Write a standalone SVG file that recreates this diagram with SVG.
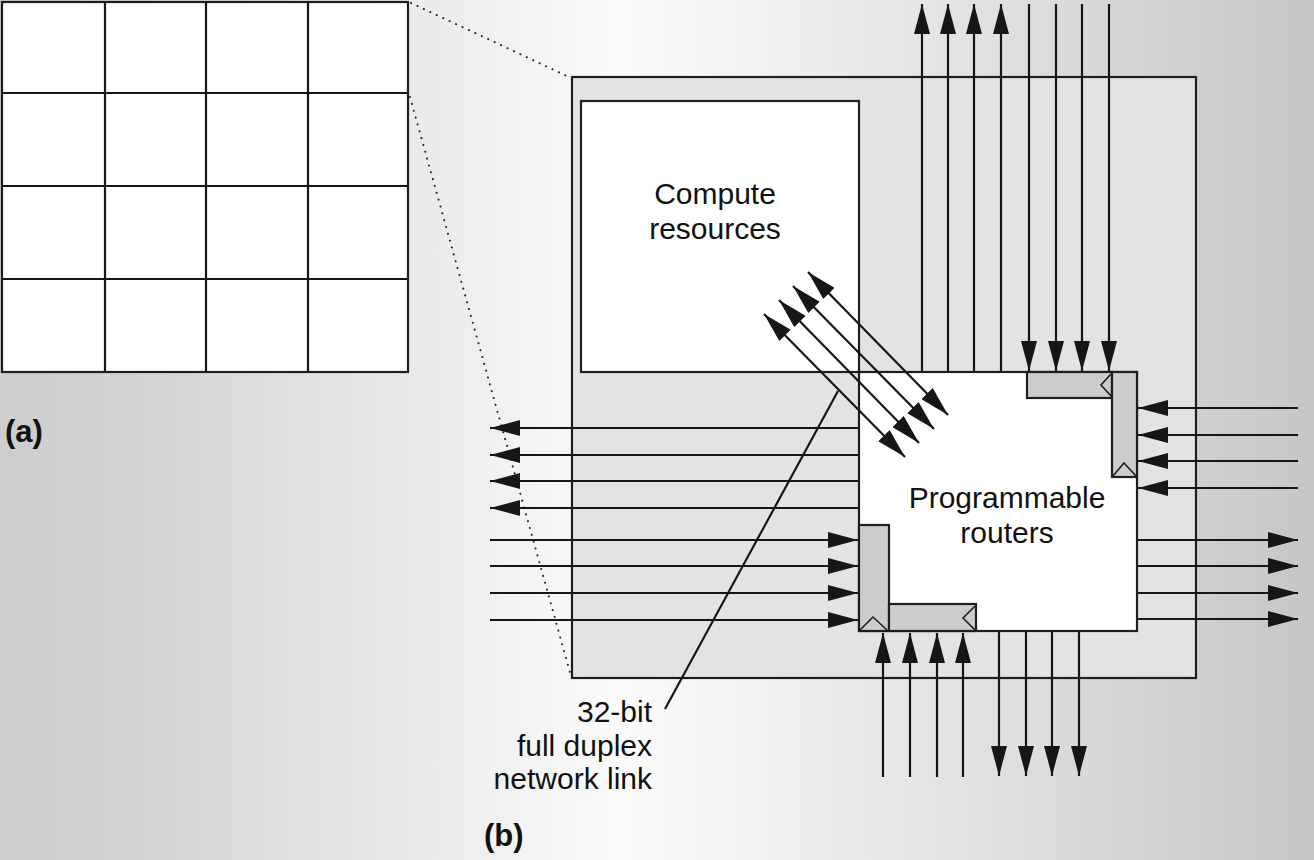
<svg xmlns="http://www.w3.org/2000/svg" width="1314" height="860" viewBox="0 0 1314 860">
  <defs>
    <linearGradient id="bg" x1="0" y1="0" x2="1314" y2="0" gradientUnits="userSpaceOnUse">
      <stop offset="0" stop-color="#cdcdcd"/>
      <stop offset="0.1" stop-color="#d3d3d3"/>
      <stop offset="0.38" stop-color="#f1f1f1"/>
      <stop offset="0.47" stop-color="#fbfbfb"/>
      <stop offset="0.72" stop-color="#e4e4e4"/>
      <stop offset="1" stop-color="#c6c6c6"/>
    </linearGradient>
    <marker id="ah" viewBox="0 0 30 16" markerWidth="30" markerHeight="16" refX="30" refY="8" orient="auto-start-reverse" markerUnits="userSpaceOnUse">
      <path d="M0,0 L30,8 L0,16 z" fill="#161616"/>
    </marker>
    <style>
      .ln { stroke: #161616; stroke-width: 2.2; fill: none; }
      .arr { stroke: #161616; stroke-width: 2.2; fill: none; marker-end: url(#ah); }
      .dbl { stroke: #161616; stroke-width: 2.2; fill: none; marker-end: url(#ah); marker-start: url(#ah); }
      .box { stroke: #1e1e1e; stroke-width: 2.2; }
      .bar { fill: #cccccc; stroke: #1e1e1e; stroke-width: 2.2; }
      .tri { fill: none; stroke: #1e1e1e; stroke-width: 1.6; }
      .dot { stroke: #222; stroke-width: 2; stroke-dasharray: 0.1 7; stroke-linecap: round; fill: none; }
      .t { font-family: "Liberation Sans", Arial, sans-serif; font-size: 30px; fill: #111; }
      .tb { font-family: "Liberation Sans", Arial, sans-serif; font-size: 31px; font-weight: bold; fill: #111; }
    </style>
  </defs>

  <rect x="0" y="0" width="1314" height="860" fill="url(#bg)"/>

  <!-- (a) grid -->
  <g id="grid">
    <rect x="2" y="2" width="406" height="370" fill="#ffffff" class="box"/>
    <line class="ln" x1="105" y1="2" x2="105" y2="372"/>
    <line class="ln" x1="206" y1="2" x2="206" y2="372"/>
    <line class="ln" x1="308" y1="2" x2="308" y2="372"/>
    <line class="ln" x1="2" y1="93" x2="408" y2="93"/>
    <line class="ln" x1="2" y1="186" x2="408" y2="186"/>
    <line class="ln" x1="2" y1="279" x2="408" y2="279"/>
  </g>
  <text class="tb" x="5" y="442">(a)</text>

  <!-- zoom lines -->
  <g id="zoom-lines">
    <line class="dot" x1="411" y1="3" x2="569" y2="77"/>
    <line class="dot" x1="410" y1="97" x2="571" y2="676"/>
  </g>

  <!-- tile -->
  <g id="tile">
    <rect x="572" y="77" width="624" height="601" fill="#e3e3e3" class="box"/>
  </g>

  <!-- connectors -->
  <g id="connectors">
    <!-- top: up -->
    <line class="arr" x1="922" y1="372" x2="922" y2="4"/>
    <line class="arr" x1="948" y1="372" x2="948" y2="4"/>
    <line class="arr" x1="974" y1="372" x2="974" y2="4"/>
    <line class="arr" x1="1001" y1="372" x2="1001" y2="4"/>
    <!-- top: down -->
    <line class="arr" x1="1029" y1="4" x2="1029" y2="371"/>
    <line class="arr" x1="1056" y1="4" x2="1056" y2="371"/>
    <line class="arr" x1="1082" y1="4" x2="1082" y2="371"/>
    <line class="arr" x1="1109" y1="4" x2="1109" y2="371"/>
    <!-- right: in -->
    <line class="arr" x1="1298" y1="408" x2="1138" y2="408"/>
    <line class="arr" x1="1298" y1="435" x2="1138" y2="435"/>
    <line class="arr" x1="1298" y1="461" x2="1138" y2="461"/>
    <line class="arr" x1="1298" y1="488" x2="1138" y2="488"/>
    <!-- right: out -->
    <line class="arr" x1="1137" y1="540" x2="1298" y2="540"/>
    <line class="arr" x1="1137" y1="566" x2="1298" y2="566"/>
    <line class="arr" x1="1137" y1="593" x2="1298" y2="593"/>
    <line class="arr" x1="1137" y1="619" x2="1298" y2="619"/>
    <!-- left: out -->
    <line class="arr" x1="859" y1="428" x2="490" y2="428"/>
    <line class="arr" x1="859" y1="455" x2="490" y2="455"/>
    <line class="arr" x1="859" y1="481" x2="490" y2="481"/>
    <line class="arr" x1="859" y1="508" x2="490" y2="508"/>
    <!-- left: in -->
    <line class="arr" x1="490" y1="540" x2="858" y2="540"/>
    <line class="arr" x1="490" y1="566" x2="858" y2="566"/>
    <line class="arr" x1="490" y1="593" x2="858" y2="593"/>
    <line class="arr" x1="490" y1="620" x2="858" y2="620"/>
    <!-- bottom: up -->
    <line class="arr" x1="883" y1="777" x2="883" y2="633"/>
    <line class="arr" x1="910" y1="777" x2="910" y2="633"/>
    <line class="arr" x1="937" y1="777" x2="937" y2="633"/>
    <line class="arr" x1="963" y1="777" x2="963" y2="633"/>
    <!-- bottom: down -->
    <line class="arr" x1="999" y1="631" x2="999" y2="776"/>
    <line class="arr" x1="1026" y1="631" x2="1026" y2="776"/>
    <line class="arr" x1="1052" y1="631" x2="1052" y2="776"/>
    <line class="arr" x1="1079" y1="631" x2="1079" y2="776"/>
  </g>

  <!-- compute resources -->
  <g id="compute">
    <rect x="581" y="101" width="278" height="271" fill="#ffffff" class="box"/>
    <text class="t" x="715" y="204" text-anchor="middle">Compute</text>
    <text class="t" x="715" y="239" text-anchor="middle">resources</text>
  </g>

  <!-- routers -->
  <g id="routers">
    <rect x="859" y="372" width="278" height="259" fill="#ffffff" class="box"/>
    <text class="t" x="1007" y="508" text-anchor="middle">Programmable</text>
    <text class="t" x="1007" y="543" text-anchor="middle">routers</text>
  </g>

  <!-- router ports -->
  <g id="port-top-right">
    <rect class="bar" x="1027" y="372" width="85" height="26"/>
    <rect class="bar" x="1112" y="372" width="25" height="105"/>
    <polyline class="tri" points="1111,374 1101,385 1111,396"/>
    <polyline class="tri" points="1113,476 1124,463 1136,476"/>
  </g>
  <g id="port-bottom-left">
    <rect class="bar" x="859" y="525" width="30" height="106"/>
    <rect class="bar" x="889" y="604" width="87" height="27"/>
    <polyline class="tri" points="860,630 873,617 887,630"/>
    <polyline class="tri" points="975,606 963,618 975,630"/>
  </g>

  <!-- diagonal network link -->
  <g id="network-link">
    <line class="dbl" x1="808" y1="272" x2="948" y2="415"/>
    <line class="dbl" x1="793" y1="286" x2="934" y2="429"/>
    <line class="dbl" x1="779" y1="300" x2="919" y2="443"/>
    <line class="dbl" x1="764" y1="314" x2="905" y2="457"/>
  </g>

  <!-- label -->
  <g id="link-label">
    <line class="ln" x1="838" y1="391" x2="665" y2="709"/>
    <text class="t" x="652" y="722" text-anchor="end">32-bit</text>
    <text class="t" x="652" y="756" text-anchor="end">full duplex</text>
    <text class="t" x="652" y="789" text-anchor="end">network link</text>
  </g>
  <text class="tb" x="484" y="846">(b)</text>
</svg>
